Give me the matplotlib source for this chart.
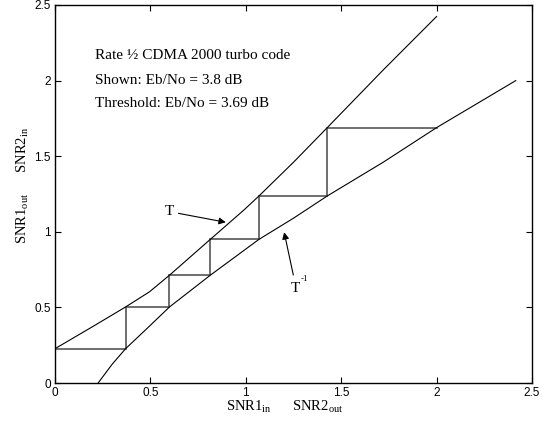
import matplotlib
matplotlib.use("Agg")
import matplotlib.pyplot as plt

# Upper curve T
t_x = [0.0, 0.20, 0.37, 0.495, 0.60, 0.814, 0.99, 1.069, 1.25, 1.427, 1.72, 2.0]
t_y = [0.227, 0.375, 0.503, 0.603, 0.713, 0.950, 1.144, 1.237, 1.46, 1.689, 2.07, 2.424]
# Lower curve T^-1
ti_x = [0.226, 0.30, 0.37, 0.49, 0.60, 0.814, 1.069, 1.25, 1.427, 1.72, 2.0, 2.415]
ti_y = [0.0, 0.125, 0.227, 0.37, 0.503, 0.713, 0.950, 1.09, 1.237, 1.46, 1.689, 2.0]
# Staircase corners
stair_x = [0.0, 0.37, 0.60, 0.814, 1.069, 1.427, 2.0]
stair_y = [0.227, 0.503, 0.713, 0.950, 1.237, 1.689]

info_lines = ["Rate ½ CDMA 2000 turbo code",
              "Shown: Eb/No = 3.8 dB",
              "Threshold: Eb/No = 3.69 dB"]
info_y = [2.165, 2.0, 1.85]

ticks = [0, 0.5, 1, 1.5, 2, 2.5]
tick_labels = ["0", "0.5", "1", "1.5", "2", "2.5"]

fig = plt.figure(figsize=(5.48, 4.22), dpi=100)
ax = fig.add_axes([0.1004, 0.0924, 0.8704, 0.8958])

serif = ["Liberation Serif", "DejaVu Serif"]

# staircase
px, py = [stair_x[0]], [stair_y[0]]
for i in range(len(stair_y)):
    px.append(stair_x[i + 1]); py.append(stair_y[i])
    if i + 1 < len(stair_y):
        px.append(stair_x[i + 1]); py.append(stair_y[i + 1])
ax.plot(px, py, color="#555555", lw=1.2, solid_joinstyle="miter")

ax.plot(t_x, t_y, color="black", lw=0.8)
ax.plot(ti_x, ti_y, color="black", lw=0.8)

for s, y in zip(info_lines, info_y):
    ax.text(0.21, y, s, family=serif, fontsize=11, va="center", ha="left")

ax.annotate("", xy=(0.895, 1.063), xytext=(0.647, 1.122),
            arrowprops=dict(arrowstyle="-|>", color="black", lw=0.8, mutation_scale=10,
                            shrinkA=0, shrinkB=0))
ax.text(0.598, 1.133, "T", family=serif, fontsize=11, va="center", ha="center")

ax.annotate("", xy=(1.201, 0.997), xytext=(1.249, 0.714),
            arrowprops=dict(arrowstyle="-|>", color="black", lw=0.8, mutation_scale=10,
                            shrinkA=0, shrinkB=0))
ax.text(1.262, 0.626, "T", family=serif, fontsize=11, va="center", ha="center")
ax.text(1.29, 0.685, "-1", family=serif, fontsize=6.5, va="center", ha="left")

ax.set_xlim(0, 2.5)
ax.set_ylim(0, 2.5)
ax.set_xticks(ticks)
ax.set_xticklabels(tick_labels)
ax.set_yticks(ticks)
ax.set_yticklabels(tick_labels)
ax.tick_params(direction="in", length=4, width=0.8, top=True, right=True,
               labelsize=8.5, pad=3)
for lab in ax.get_xticklabels() + ax.get_yticklabels():
    lab.set_family(["Liberation Sans", "DejaVu Sans"])
for sp in ax.spines.values():
    sp.set_linewidth(1.0)

fig.text(285 / 548, 1 - 407 / 422, r"SNR1$_{\mathregular{in}}$      SNR2$_{\mathregular{out}}$",
         family=serif, fontsize=10.5, ha="center", va="center")
fig.text(23 / 548, 1 - 185 / 422, r"SNR1$_{\mathregular{out}}$      SNR2$_{\mathregular{in}}$",
         family=serif, fontsize=10.5, ha="center", va="center", rotation=90)

fig.savefig("out.png", dpi=100)
